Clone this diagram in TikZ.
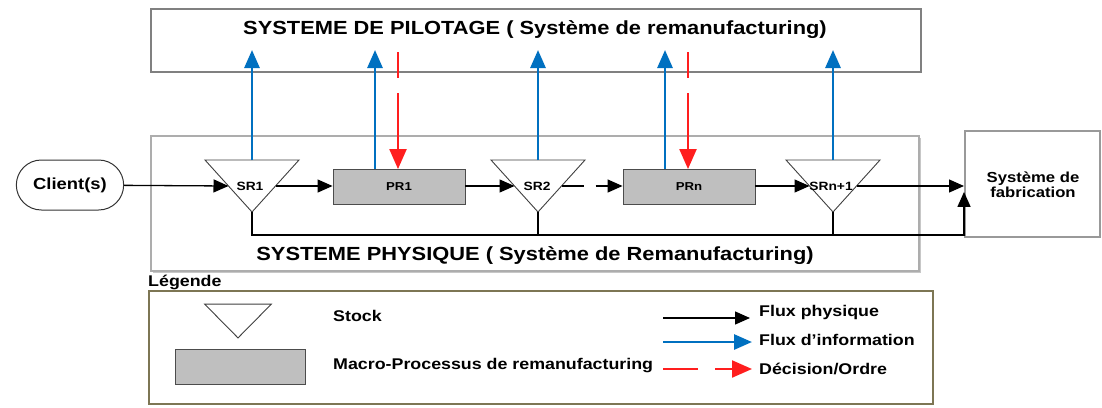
\documentclass[tikz,border=0pt]{standalone}
\usepackage{fontspec}
\setmainfont{Liberation Sans}[FakeStretch=1.15]
\usetikzlibrary{arrows.meta,shadows,calc,shapes.misc}
\definecolor{infoblue}{RGB}{0,112,192}
\definecolor{ordred}{RGB}{255,30,30}
\definecolor{boxgray}{RGB}{128,128,128}
\definecolor{procgray}{RGB}{191,191,191}
\definecolor{legolive}{RGB}{125,118,84}
\tikzset{
  frame/.style={draw=boxgray, line width=1.8pt, fill=white, inner sep=0pt, anchor=north west,
    drop shadow={shadow xshift=1.5pt, shadow yshift=-1.5pt, opacity=1, fill=black!22}},
  titletxt/.style={font=\bfseries\fontsize{19}{23}\selectfont},
  legtxt/.style={font=\bfseries\fontsize{15.5}{18}\selectfont, anchor=west, inner sep=0pt},
  proc/.style={draw=black!70, fill=procgray, line width=0.9pt, minimum width=132pt, minimum height=35pt,
    inner sep=0pt, font=\bfseries\fontsize{11.5}{13}\selectfont},
  stocklbl/.style={font=\bfseries\fontsize{12}{14}\selectfont, inner sep=0pt},
  stockdraw/.style={draw=black!75, line width=0.9pt, fill=white, line join=miter},
  phys/.style={draw=black, line width=1.3pt, -{Triangle[length=15pt,width=13pt]}},
  plain/.style={draw=black, line width=1.3pt},
  info/.style={draw=infoblue, line width=2.8pt, -{Triangle[length=18pt,width=15pt]}},
  ord/.style={draw=ordred, line width=2.2pt, -{Triangle[length=20pt,width=17pt]}},
  stockshape/.pic={
    \draw[stockdraw] (-47,-26) coordinate (-tl) -- (47,-26) coordinate (-tr) -- (0,26) coordinate (-ap) -- cycle;
    \coordinate (-top) at (0,-26);
    \coordinate (-w) at (-23.5,0);
    \coordinate (-e) at (23.5,0);
  }
}
\begin{document}
\begin{tikzpicture}[x=1pt,y=-1pt]
\useasboundingbox (0,0) rectangle (1102,407);
% frames
\node[frame, minimum width=770pt, minimum height=63pt] (pil) at (150,8) {};
\node[titletxt] (piltxt) at (535,30) {SYSTEME DE PILOTAGE ( Système de remanufacturing)};
\node[frame, draw=black!32, line width=2pt, minimum width=768pt, minimum height=135pt] (phy) at (150,135) {};
\node[titletxt] (phytxt) at (535,256) {SYSTEME PHYSIQUE ( Système de Remanufacturing)};
\node[frame, draw=black!40, minimum width=135pt, minimum height=106pt] (fab) at (964,130) {};
\node[font=\bfseries\fontsize{14.5}{15}\selectfont, align=center, inner sep=0pt] (fabtxt) at (1033,185) {Système de\\fabrication};
% client
\node[rounded rectangle, draw=black!80, line width=1pt, minimum width=114pt, minimum height=50pt,
  font=\bfseries\fontsize{16}{18}\selectfont] (cli) at (70,185) {Client(s)};
% stocks
\pic (sr1) at (252,186) {stockshape};
\node[stocklbl] (sr1l) at (250,186) {SR1};
\pic (sr2) at (538,186) {stockshape};
\node[stocklbl] (sr2l) at (537,186) {SR2};
\pic (srn) at (833,186) {stockshape};
\node[stocklbl] (srnl) at (831,186) {SRn+1};
% processes
\node[proc] (pr1) at (399,187) {PR1};
\node[proc] (prn) at (689,187) {PRn};
% helper coordinates
\coordinate (tipy) at (0,50);
\coordinate (botl) at (0,235);
\coordinate (ord1) at (398,52);
\coordinate (ordn) at (688,52);
% physical flow
\draw[phys] (cli) -- (sr1-w);
\draw[phys] (sr1-e) -- (sr1-e -| pr1.west);
\draw[phys] (pr1.east |- sr2-w) -- (sr2-w);
\draw[phys, dash pattern=on 22pt off 12pt on 60pt] (sr2-e) -- (sr2-e -| prn.west);
\draw[phys] (prn.east |- srn-w) -- (srn-w);
\draw[phys] (srn-e) -- (srn-e -| fab.west);
\draw[phys] (sr1-ap) -- (sr1-ap |- botl) -| ([yshift=-8pt]fab.west);
\draw[plain] (sr2-ap) -- (sr2-ap |- botl);
\draw[plain] (srn-ap) -- (srn-ap |- botl);
% information flow
\draw[info] (sr1-top) -- (sr1-top |- tipy);
\draw[info] ([xshift=-24pt]pr1.north) -- ([xshift=-24pt]pr1.north |- tipy);
\draw[info] (sr2-top) -- (sr2-top |- tipy);
\draw[info] ([xshift=-24pt]prn.north) -- ([xshift=-24pt]prn.north |- tipy);
\draw[info] (srn-top) -- (srn-top |- tipy);
% orders
\draw[ord, dash pattern=on 26pt off 15pt on 80pt] (ord1) -- ([xshift=-1pt]pr1.north);
\draw[ord, dash pattern=on 26pt off 15pt on 80pt] (ordn) -- ([xshift=-1pt]prn.north);
% legend
\node[legtxt] (legt) at (148,282) {Légende};
\node[draw=legolive, line width=2pt, minimum width=784pt, minimum height=113pt, anchor=north west, inner sep=0pt] (leg) at (148,290) {};
\pic[xscale=0.71, yscale=0.65] (lgs) at (238,321) {stockshape};
\node[proc, minimum width=130pt, minimum height=35pt] (lgp) at (240,367) {};
\node[legtxt] (lgst) at (333,316) {Stock};
\node[legtxt] (lgpt) at (333,366) {Macro-Processus de remanufacturing};
\coordinate (la1) at (663,318); \coordinate (lb1) at (750,318);
\coordinate (la2) at (663,342); \coordinate (lb2) at (752,342);
\coordinate (la3) at (663,369); \coordinate (lb3) at (752,369);
\draw[phys] (la1) -- (lb1);
\draw[info] (la2) -- (lb2);
\draw[ord, dash pattern=on 35pt off 17pt on 80pt] (la3) -- (lb3);
\node[legtxt] (lf1) at (759,312) {Flux physique};
\node[legtxt] (lf2) at (759,340) {Flux d’information};
\node[legtxt] (lf3) at (759,369) {Décision/Ordre};
\end{tikzpicture}
\end{document}
